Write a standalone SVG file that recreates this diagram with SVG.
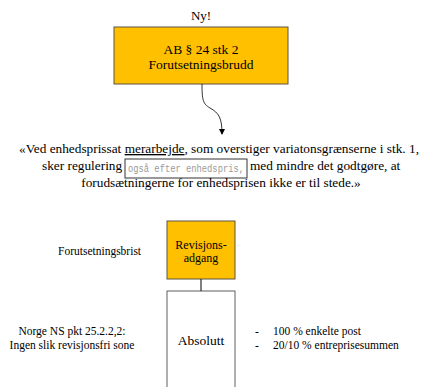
<svg xmlns="http://www.w3.org/2000/svg" width="430" height="387" viewBox="0 0 430 387">
<style>
text{font-family:"Liberation Serif","Times New Roman",serif;fill:#000}
.node{fill:#FFC000;stroke:#5f5443;stroke-width:1}
.plain{fill:#fff;stroke:#5f5f5f;stroke-width:1}
.q{font-size:13.3px}
.s{font-size:11.5px}
.mono{font-family:"Liberation Mono","Courier New",monospace;font-size:10.5px;fill:#9a9a9a}
.c{text-anchor:middle}
</style>
<defs>
<marker id="arr" markerWidth="6" markerHeight="6" refX="5" refY="3" orient="auto" markerUnits="userSpaceOnUse">
<path d="M0,0 L6,3 L0,6 Z" fill="#000"/>
</marker>
</defs>
<rect width="430" height="387" fill="#fff"/>
<text x="201" y="20" class="c" font-size="13">Ny!</text>
<g id="ab24">
<rect x="114" y="27" width="174" height="57" class="node"/>
<text x="201" y="54" class="c" font-size="13.5">AB § 24 stk 2</text>
<text x="201" y="69" class="c" font-size="13.5">Forutsetningsbrudd</text>
</g>
<g id="quote">
<text x="219" y="153" class="q c">«Ved enhedsprissat <tspan text-decoration="underline">merarbejde</tspan>, som overstiger variatonsgrænserne i stk. 1,</text>
<text x="42" y="170" class="q">sker regulering</text>
<rect x="125" y="159" width="122" height="19" fill="none" stroke="#333" stroke-width="1"/>
<text x="128" y="172" class="mono" textLength="116" lengthAdjust="spacingAndGlyphs">også efter enhedspris,</text>
<text x="250" y="170" class="q">med mindre det godtgøre, at</text>
<text x="221" y="187" class="q c">forudsætningerne for enhedsprisen ikke er til stede.»</text>
</g>
<g id="revisjon">
<rect x="167" y="221" width="68" height="58" class="node"/>
<text x="201" y="249" class="c" font-size="12">Revisjons-</text>
<text x="201" y="262" class="c" font-size="12">adgang</text>
</g>
<g id="absolutt">
<rect x="167" y="291" width="68" height="110" class="plain"/>
<text x="201" y="345" class="c" font-size="13.5">Absolutt</text>
</g>
<g id="labels">
<text x="58" y="255" class="s">Forutsetningsbrist</text>
<text x="72" y="335" class="s c">Norge NS pkt 25.2.2,2:</text>
<text x="72" y="349" class="s c">Ingen slik revisjonsfri sone</text>
<text x="255" y="335" class="s">-</text>
<text x="273" y="335" class="s">100 % enkelte post</text>
<text x="255" y="349" class="s">-</text>
<text x="273" y="349" class="s">20/10 % entreprisesummen</text>
</g>
<g id="connectors" fill="none" stroke="#000" stroke-width="1">
<path d="M202,84 C202,100 203,104 210,108 C219,113 222,118 222,134" marker-end="url(#arr)" stroke-width="0.8"/>
<line x1="201" y1="279" x2="201" y2="291"/>
</g>
</svg>
